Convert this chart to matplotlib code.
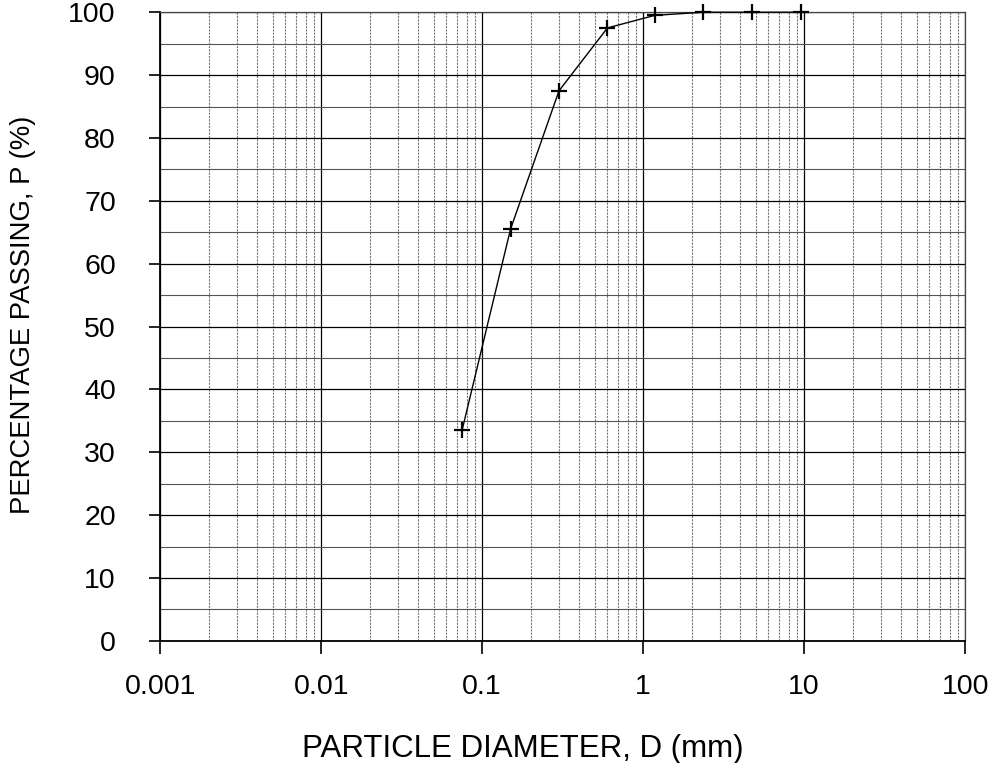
import matplotlib.pyplot as plt
import numpy as np
from matplotlib.ticker import LogLocator, FixedLocator, NullFormatter

plt.rcParams['font.family'] = ['Liberation Sans', 'DejaVu Sans']

# sieve sizes (mm) and percentage passing
diameter = [0.075, 0.15, 0.3, 0.6, 1.18, 2.36, 4.75, 9.5]
passing = [33.5, 65.5, 87.5, 97.5, 99.5, 100, 100, 100]
xticks = [0.001, 0.01, 0.1, 1, 10, 100]
xticklabels = ['0.001', '0.01', '0.1', '1', '10', '100']
yticks = [0, 10, 20, 30, 40, 50, 60, 70, 80, 90, 100]

fig = plt.figure(figsize=(9.95, 7.63), dpi=100)
ax = fig.add_axes([0.161, 0.160, 0.809, 0.824])

ax.set_xscale('log')
ax.set_xlim(0.001, 100)
ax.set_ylim(0, 100)

ax.set_xticks(xticks)
ax.set_xticklabels(xticklabels)
ax.xaxis.set_minor_locator(LogLocator(base=10, subs=np.arange(2, 10)))
ax.xaxis.set_minor_formatter(NullFormatter())
ax.set_yticks(yticks)
ax.yaxis.set_minor_locator(FixedLocator(np.arange(5, 100, 10)))

ax.grid(which='major', axis='both', color='black', linewidth=0.9)
ax.grid(which='minor', axis='y', color='#555555', linewidth=0.8)
ax.grid(which='minor', axis='x', color='#777777', linewidth=0.8, linestyle=(0, (2, 1)))

ax.tick_params(axis='y', which='major', direction='out', length=8, width=1.2,
               labelsize=20.5, pad=24)
ax.tick_params(axis='x', which='major', direction='out', length=9, width=1.2,
               labelsize=20.5, pad=15)
ax.tick_params(axis='both', which='minor', length=0)

for s in ax.spines.values():
    s.set_linewidth(0.9)
    s.set_color('#444444')
ax.spines['left'].set_color('black')
ax.spines['left'].set_linewidth(1.3)
ax.spines['bottom'].set_color('black')
ax.spines['bottom'].set_linewidth(1.3)

ax.plot(diameter, passing, color='black', linewidth=1.0, marker='+',
        markersize=12, markeredgewidth=1.6, clip_on=False, zorder=5)

# axis titles placed directly, as in the reference
fig.text(523 / 995, 1 - 757 / 763, 'PARTICLE DIAMETER, D (mm)', fontsize=22.5,
         ha='center', va='baseline')
fig.text(23 / 995, 1 - 315 / 763, 'PERCENTAGE PASSING, P (%)', fontsize=19.8,
         ha='center', va='center', rotation=90)

fig.savefig('out.png', dpi=100)
